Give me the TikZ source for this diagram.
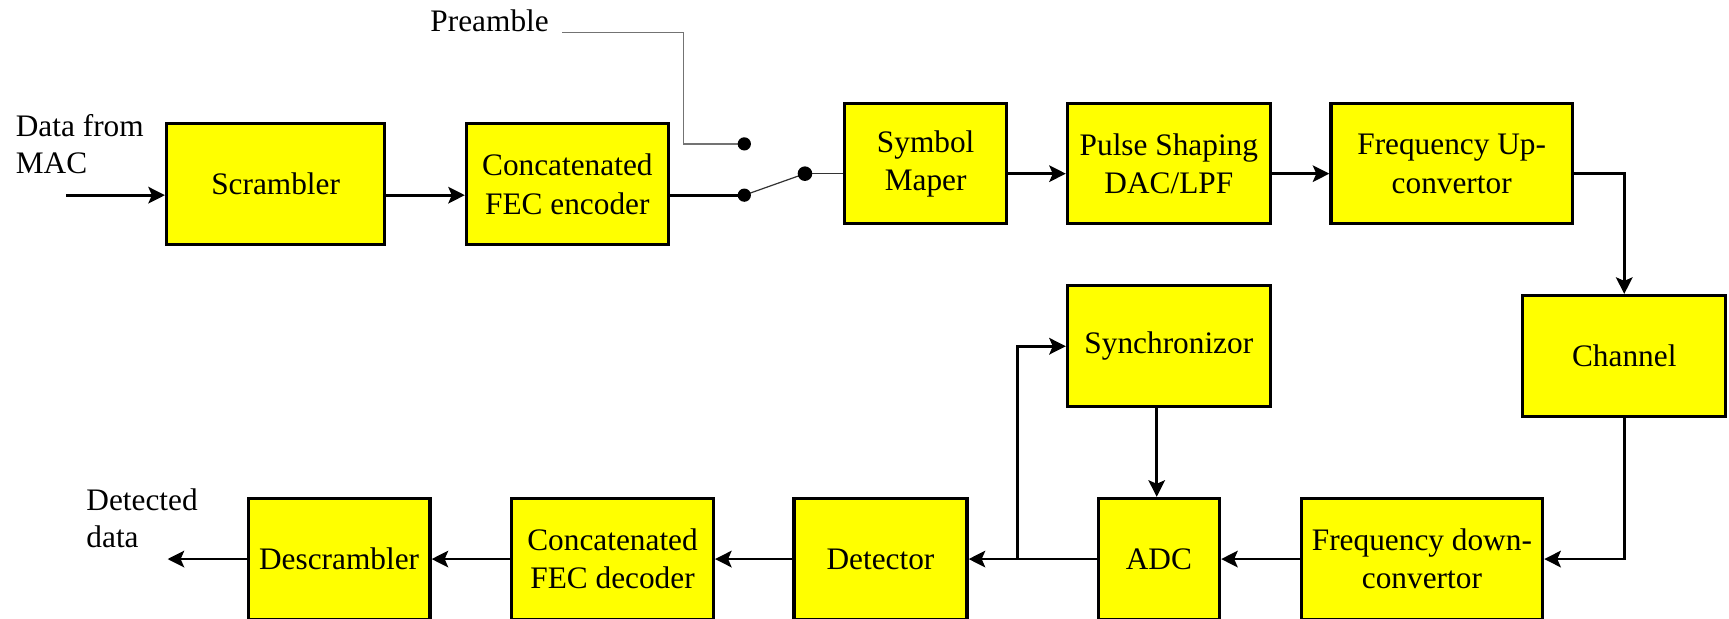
\documentclass[tikz,border=0pt]{standalone}
\usepackage{fontspec}
\setmainfont{Liberation Serif}
\usetikzlibrary{arrows.meta,calc}
\definecolor{ylw}{RGB}{255,255,0}
\begin{document}
\begin{tikzpicture}[x=0.5pt,y=-0.5pt,
  blk/.style={draw=black,fill=ylw,line width=1.45pt,rectangle,inner sep=0pt,align=center,
    font=\fontsize{14.2}{17.4}\selectfont},
  lbl/.style={inner sep=0pt,align=left,font=\fontsize{14.2}{16.9}\selectfont},
  wire/.style={line width=1.25pt,draw=black},
  arr/.style={wire,-{Stealth[length=7.5pt,width=7.5pt,inset=1.6pt]}},
  thinw/.style={line width=0.55pt,draw=black!80},
  pre/.style={line width=0.55pt,draw=black!55},
  dot/.style={circle,fill=black,inner sep=0pt,minimum size=6pt}]
\useasboundingbox (0,0) rectangle (1568,561);
% boxes (sizes in pt = half of picture units)
\node[blk,minimum width=99pt,minimum height=55pt] (scr)  at (250,167)    {Scrambler};
\node[blk,minimum width=91.5pt,minimum height=55pt] (fece) at (514.5,167)  {Concatenated\\FEC encoder};
\node[blk,minimum width=73.5pt,minimum height=54.5pt] (sym)  at (839.5,148.5) {Symbol\\Maper};
\node[blk,minimum width=92pt,minimum height=54.5pt] (pulse) at (1060,148.5) {Pulse Shaping\\DAC/LPF};
\node[blk,minimum width=109.5pt,minimum height=54.5pt] (fup)  at (1316.5,148.5) {Frequency Up-\\convertor};
\node[blk,minimum width=92pt,minimum height=55pt] (chan) at (1473,323)   {Channel};
\node[blk,minimum width=92pt,minimum height=55pt] (sync) at (1060,314)   {Synchronizor};
\node[blk,minimum width=109.5pt,minimum height=55pt] (fdown) at (1289.5,507) {Frequency down-\\convertor};
\node[blk,minimum width=55pt,minimum height=55pt] (adc)  at (1051,507)   {ADC};
\node[blk,minimum width=78.5pt,minimum height=55pt] (det)  at (798.5,507)  {Detector};
\node[blk,minimum width=91.5pt,minimum height=55pt] (fecd) at (555.5,507)  {Concatenated\\FEC decoder};
\node[blk,minimum width=82.5pt,minimum height=55pt] (desc) at (307.5,507)  {Descrambler};
% labels
\node[lbl,anchor=north west] (lmac) at (14,103.5) {Data from\\MAC};
\node[lbl,anchor=north west] (ldet) at (78,443) {Detected\\data};
\node[lbl,anchor=base west] (lpre) at (390,28.7) {Preamble};
% coordinates
\coordinate (in)  at (60,177);
\coordinate (out) at (152,507);
\coordinate (s1) at (675,177);
\coordinate (s2) at (675,130.5);
\coordinate (s3) at (730,157.5);
\coordinate (p1) at (510,29.6);
\coordinate (p2) at (620,29.6);
\coordinate (br) at (922.5,507);
\coordinate (sx) at (1049,0);
% connectors
\draw[arr] (in) -- (scr.west |- in);
\draw[arr] (scr.east |- in) -- (fece.west |- in);
\draw[wire] (fece.east |- s1) -- (s1);
\draw[pre] (p1) -- (p2) |- (s2);
\draw[thinw] (s1) -- (s3);
\draw[thinw] (s3) -- (sym.west |- s3);
\node[dot] (ds1) at (s1) {};
\node[dot] (ds2) at (s2) {};
\node[dot,minimum size=6.6pt] (ds3) at (s3) {};
\draw[arr] (sym.east |- s3) -- (pulse.west |- s3);
\draw[arr] (pulse.east |- s3) -- (fup.west |- s3);
\draw[arr] (fup.east |- s3) -| (chan.north);
\draw[arr] (chan.south) |- (fdown.east);
\draw[arr] (fdown.west) -- (adc.east);
\draw[arr] (adc.west) -- (det.east);
\draw[arr] (br) |- (sync.west);
\draw[arr] (sync.south -| sx) -- (adc.north -| sx);
\draw[arr] (det.west) -- (fecd.east);
\draw[arr] (fecd.west) -- (desc.east);
\draw[arr] (desc.west) -- (out);
\end{tikzpicture}
\end{document}
